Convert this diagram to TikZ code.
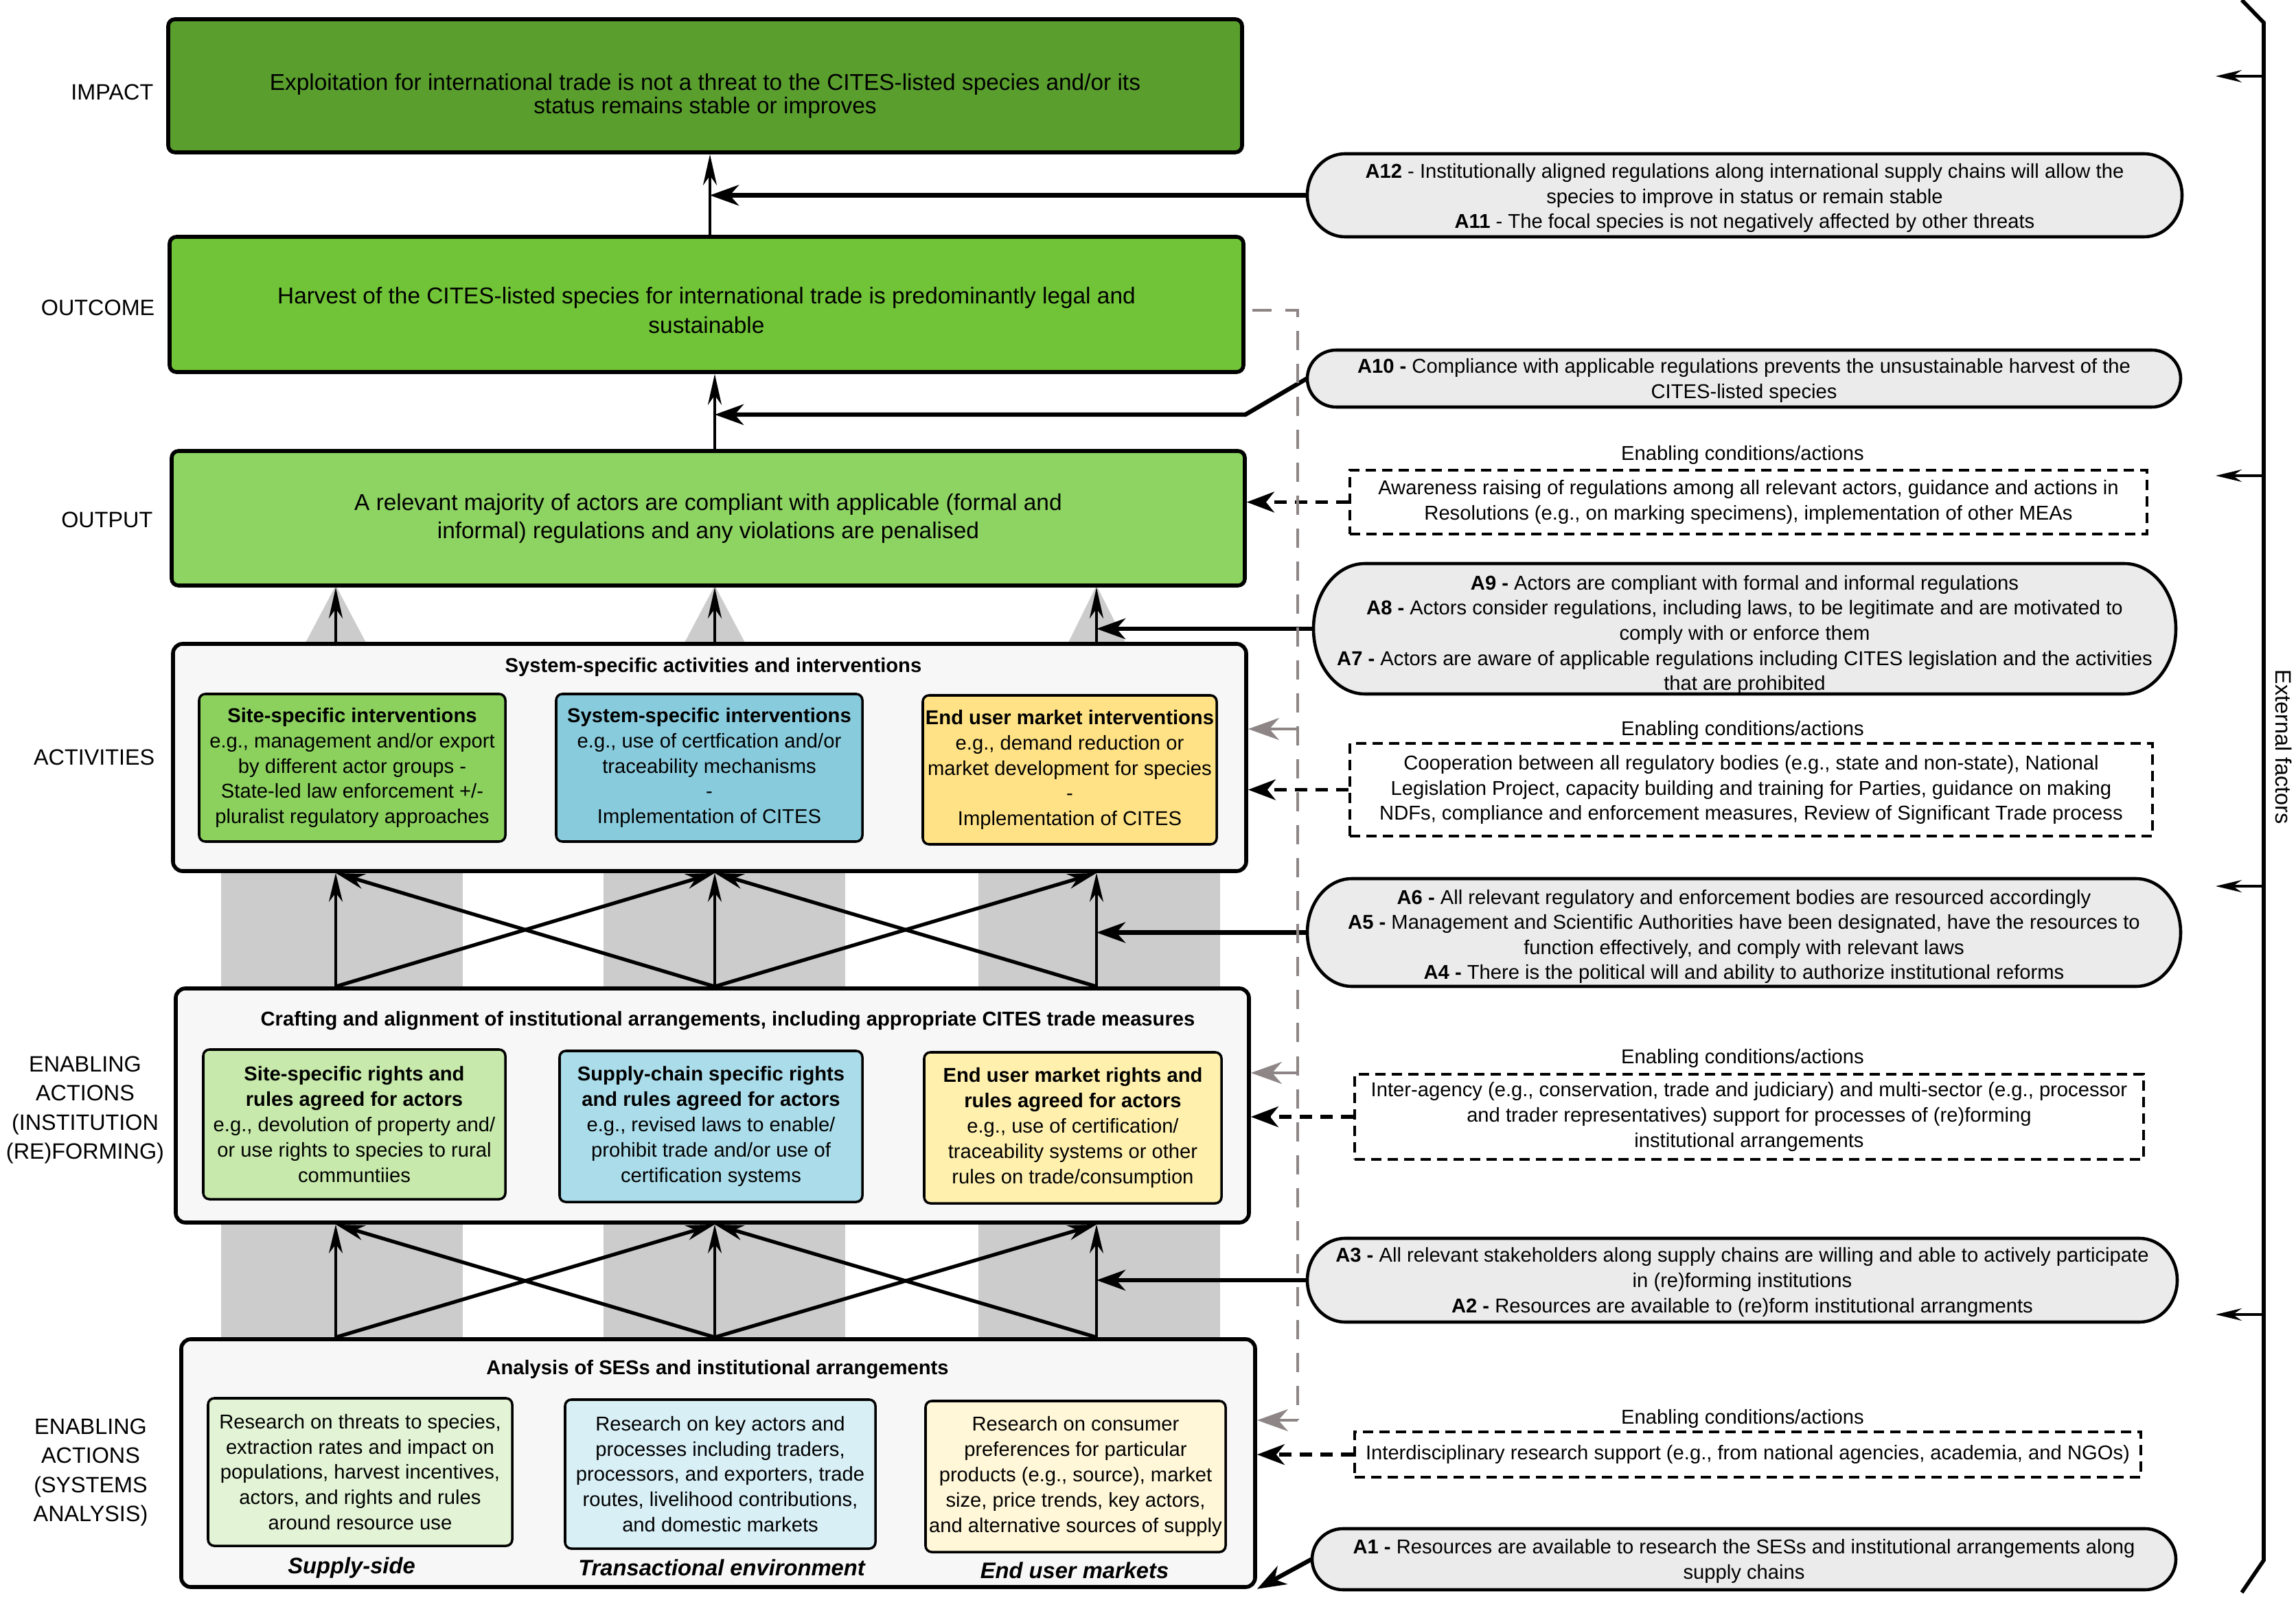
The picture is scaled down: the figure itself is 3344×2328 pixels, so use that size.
\documentclass[tikz,border=0pt]{standalone}
\usepackage{fontspec}
\setmainfont{Liberation Sans}
\usetikzlibrary{arrows.meta,calc}

\definecolor{gImpact}{HTML}{5A9F2E}
\definecolor{gOutcome}{HTML}{71C437}
\definecolor{gOutput}{HTML}{8ED462}
\definecolor{panelgray}{HTML}{F7F7F7}
\definecolor{cAg}{HTML}{8CD15E}
\definecolor{cAb}{HTML}{88CBDD}
\definecolor{cAy}{HTML}{FFE285}
\definecolor{cBg}{HTML}{C7E9AB}
\definecolor{cBb}{HTML}{ABDCEA}
\definecolor{cBy}{HTML}{FFF0AE}
\definecolor{cCg}{HTML}{E3F4D6}
\definecolor{cCb}{HTML}{D8EFF6}
\definecolor{cCy}{HTML}{FFF7D8}
\definecolor{ellfill}{HTML}{EBEBEB}
\definecolor{colgray}{HTML}{CCCCCC}
\definecolor{dashgray}{HTML}{8E8686}

\newcommand{\bx}[7]{%
 \pgfmathsetmacro{\bxW}{(#5-#3)*0.01}%
 \pgfmathsetmacro{\bxH}{(#6-#4)*0.01}%
 \pgfmathsetmacro{\bxX}{(#3+#5)/2}%
 \pgfmathsetmacro{\bxY}{(#4+#6)/2}%
 \node[#1, minimum width=\bxW cm, minimum height=\bxH cm] (#2) at (\bxX,\bxY) {#7};}

% #1 name, #2 x1, #3 y1, #4 x2, #5 y2, #6 rx, #7 text y-offset, #8 text
\newcommand{\stad}[8]{%
 \pgfmathsetmacro{\sYm}{(#3+#5)/2}%
 \pgfmathsetmacro{\sRy}{(#5-#3)/2}%
 \pgfmathsetmacro{\sXa}{#2+#6}%
 \pgfmathsetmacro{\sXb}{#4-#6}%
 \pgfmathsetmacro{\sCx}{0.5523*#6}%
 \pgfmathsetmacro{\sCy}{0.5523*\sRy}%
 \filldraw[stadshape] (\sXa,#3) -- (\sXb,#3) .. controls ({\sXb+\sCx},#3) and (#4,{\sYm-\sCy}) .. (#4,\sYm) .. controls (#4,{\sYm+\sCy}) and ({\sXb+\sCx},#5) .. (\sXb,#5) -- (\sXa,#5) .. controls ({\sXa-\sCx},#5) and (#2,{\sYm+\sCy}) .. (#2,\sYm) .. controls (#2,{\sYm-\sCy}) and ({\sXa-\sCx},#3) .. cycle;
 \pgfmathsetmacro{\sW}{(#4-#2)*0.01}%
 \pgfmathsetmacro{\sH}{(#5-#3)*0.01}%
 \pgfmathsetmacro{\sX}{(#2+#4)/2}%
 \node[inner sep=0pt, minimum width=\sW cm, minimum height=\sH cm] (#1) at (\sX,\sYm) {};
 \node[stadtext] (#1t) at (\sX,{\sYm+#7}) {#8};}

\tikzset{
 mainbox/.style={draw=black, line width=1.6pt, rounded corners=0.1cm, align=center, inner sep=0pt},
 maintext/.style={align=center, inner sep=0pt},
 panel/.style={draw=black, line width=1.6pt, fill=panelgray, rounded corners=0.14cm, inner sep=0pt},
 ibox/.style={draw=black, line width=1pt, rounded corners=0.09cm, align=center, inner sep=0pt, font=\fontsize{8.3}{10.5}\selectfont},
 hdr/.style={font=\bfseries\fontsize{8.3}{10}\selectfont, inner sep=0pt},
 lab/.style={font=\fontsize{9.2}{12}\selectfont, align=center, inner sep=0pt},
 blab/.style={font=\bfseries\itshape\fontsize{9.3}{11}\selectfont, inner sep=0pt},
 stadshape/.style={fill=ellfill, draw=black, line width=1.3pt},
 stadtext/.style={align=center, inner sep=0pt, font=\fontsize{8.3}{10.4}\selectfont},
 dbox/.style={draw=black, line width=1.3pt, dash pattern=on 0.15cm off 0.09cm, align=center, inner sep=0pt, font=\fontsize{8.3}{10.5}\selectfont},
 eclab/.style={font=\fontsize{8.3}{10}\selectfont, inner sep=0pt},
 uparr/.style={line width=1.2pt, -{Stealth[length=0.45cm,width=0.2cm,inset=0.14cm]}},
 thinup/.style={line width=1pt, -{Stealth[length=0.42cm,width=0.2cm,inset=0.13cm]}},
 diagarr/.style={line width=1.5pt, -{Stealth[length=0.42cm,width=0.22cm,inset=0.13cm]}},
 aarr/.style={line width=1.8pt, line join=miter, -{Stealth[length=0.42cm,width=0.3cm,inset=0.13cm]}},
 darr/.style={line width=1.6pt, dash pattern=on 0.18cm off 0.12cm, -{Stealth[length=0.4cm,width=0.3cm,inset=0.12cm]}},
 gline/.style={draw=dashgray, line width=0.9pt, dash pattern=on 0.28cm off 0.2cm},
 garr/.style={draw=dashgray, line width=1.3pt, -{Stealth[length=0.45cm,width=0.32cm,inset=0.14cm]}},
 bracketline/.style={line width=1.6pt, line join=miter},
 extarr/.style={line width=1pt, -{Stealth[length=0.38cm,width=0.18cm,inset=0.13cm]}},
}

\begin{document}
\begin{tikzpicture}[x=0.01cm, y=-0.01cm]
\useasboundingbox (0,0) rectangle (3344,2328);
\fill[white] (0,0) rectangle (3344,2328);

% column x positions
\coordinate (cx1) at (489,0);
\coordinate (cx2) at (1041,0);
\coordinate (cx3) at (1597,0);
\coordinate (cxi) at (1034,0);

% gray columns
\fill[colgray] (322,1269) rectangle (674,1440);
\fill[colgray] (879,1269) rectangle (1231,1440);
\fill[colgray] (1425,1269) rectangle (1777,1440);
\fill[colgray] (322,1781) rectangle (674,1951);
\fill[colgray] (879,1781) rectangle (1231,1951);
\fill[colgray] (1425,1781) rectangle (1777,1951);
% gray triangles
\fill[colgray] (444,938) -- (534,938) -- (489,853) -- cycle;
\fill[colgray] (996,938) -- (1086,938) -- (1041,853) -- cycle;
\fill[colgray] (1555,938) -- (1640,938) -- (1597,853) -- cycle;

% left labels
\node[lab, anchor=east] (lImpact) at (224,134) {IMPACT};
\node[lab, anchor=east] (lOutcome) at (226,448) {OUTCOME};
\node[lab, anchor=east] (lOutput) at (223,757) {OUTPUT};
\node[lab, anchor=east] (lAct) at (226,1103) {ACTIVITIES};
\node[lab] (lInst) at (124,1617) {ENABLING\\ACTIONS\\(INSTITUTION\\(RE)FORMING)};
\node[lab] (lSys) at (132,2145) {ENABLING\\ACTIONS\\(SYSTEMS\\ANALYSIS)};

% main boxes
\bx{mainbox, fill=gImpact}{impact}{245}{28}{1809}{222}{}
\node[maintext, font=\fontsize{9.5}{9.8}\selectfont] (impactT) at (1027,140) {Exploitation for international trade is not a threat to the CITES-listed species and/or its\\status remains stable or improves};
\bx{mainbox, fill=gOutcome}{outcome}{247}{345}{1811}{542}{}
\node[maintext, font=\fontsize{9.5}{12.2}\selectfont] (outcomeT) at (1029,452) {Harvest of the CITES-listed species for international trade is predominantly legal and\\sustainable};
\bx{mainbox, fill=gOutput, font=\fontsize{9.5}{11.7}\selectfont}{output}{250}{657}{1813}{853}{A relevant majority of actors are compliant with applicable (formal and\\informal) regulations and any violations are penalised}

% activities panel
\bx{panel}{act}{252}{938}{1815}{1269}{}
\node[hdr] (hAct) at (1039,972) {System-specific activities and interventions};
\bx{ibox, fill=cAg}{actG}{290}{1011}{736}{1226}{\textbf{Site-specific interventions}\\e.g., management and/or export\\by different actor groups -\\State-led law enforcement +/-\\pluralist regulatory approaches}
\bx{ibox, fill=cAb}{actB}{810}{1011}{1256}{1226}{\textbf{System-specific interventions}\\e.g., use of certfication and/or\\traceability mechanisms\\-\\Implementation of CITES}
\bx{ibox, fill=cAy}{actY}{1344}{1013}{1772}{1230}{\textbf{End user market interventions}\\e.g., demand reduction or\\market development for species\\-\\Implementation of CITES}

% institution panel
\bx{panel}{inst}{256}{1440}{1819}{1781}{}
\node[hdr] (hInst) at (1060,1487) {Crafting and alignment of institutional arrangements, including appropriate CITES trade measures};
\bx{ibox, fill=cBg}{instG}{296}{1529}{736}{1747}{\textbf{Site-specific rights and}\\\textbf{rules agreed for actors}\\e.g., devolution of property and/\\or use rights to species to rural\\communtiies}
\bx{ibox, fill=cBb}{instB}{815}{1531}{1256}{1751}{\textbf{Supply-chain specific rights}\\\textbf{and rules agreed for actors}\\e.g., revised laws to enable/\\prohibit trade and/or use of\\certification systems}
\bx{ibox, fill=cBy}{instY}{1346}{1533}{1779}{1753}{\textbf{End user market rights and}\\\textbf{rules agreed for actors}\\e.g., use of certification/\\traceability systems or other\\rules on trade/consumption}

% systems panel
\bx{panel}{sys}{264}{1951}{1828}{2312}{}
\node[hdr] (hSys) at (1045,1995) {Analysis of SESs and institutional arrangements};
\bx{ibox, fill=cCg}{sysG}{303}{2037}{746}{2252}{Research on threats to species,\\extraction rates and impact on\\populations, harvest incentives,\\actors, and rights and rules\\around resource use}
\bx{ibox, fill=cCb}{sysB}{823}{2039}{1275}{2256}{Research on key actors and\\processes including traders,\\processors, and exporters, trade\\routes, livelihood contributions,\\and domestic markets}
\bx{ibox, fill=cCy}{sysY}{1348}{2041}{1785}{2261}{Research on consumer\\preferences for particular\\products (e.g., source), market\\size, price trends, key actors,\\and alternative sources of supply}
\node[blab] (lSupply) at (512,2284) {Supply-side};
\node[blab] (lTrans) at (1051,2284) {Transactional environment};
\node[blab] (lEnd) at (1565,2288) {End user markets};

% assumption shapes
\stad{A12}{1904}{224}{3178}{345}{55}{4}{\textbf{A12} - Institutionally aligned regulations along international supply chains will allow the\\species to improve in status or remain stable\\\textbf{A11} - The focal species is not negatively affected by other threats}
\stad{A10}{1904}{510}{3176}{593}{42}{3}{\textbf{A10 -} Compliance with applicable regulations prevents the unsustainable harvest of the\\CITES-listed species}
\stad{A9}{1913}{821}{3169}{1011}{75}{9}{\textbf{A9 -} Actors are compliant with formal and informal regulations\\\textbf{A8 -} Actors consider regulations, including laws, to be legitimate and are motivated to\\comply with or enforce them\\\textbf{A7 -} Actors are aware of applicable regulations including CITES legislation and the activities\\that are prohibited}
\stad{A6}{1904}{1280}{3176}{1437}{65}{6}{\textbf{A6 -} All relevant regulatory and enforcement bodies are resourced accordingly\\\textbf{A5 -} Management and Scientific Authorities have been designated, have the resources to\\function effectively, and comply with relevant laws\\\textbf{A4 -} There is the political will and ability to authorize institutional reforms}
\stad{A3}{1904}{1804}{3171}{1926}{55}{3}{\textbf{A3 -} All relevant stakeholders along supply chains are willing and able to actively participate\\in (re)forming institutions\\\textbf{A2 -} Resources are available to (re)form institutional arrangments}
\stad{A1}{1911}{2227}{3169}{2316}{45}{3}{\textbf{A1 -} Resources are available to research the SESs and institutional arrangements along\\supply chains}

% enabling conditions
\node[eclab] (ec1) at (2538,663) {Enabling conditions/actions};
\bx{dbox}{db1}{1966}{685}{3127}{778}{Awareness raising of regulations among all relevant actors, guidance and actions in\\Resolutions (e.g., on marking specimens), implementation of other MEAs}
\node[eclab] (ec2) at (2538,1064) {Enabling conditions/actions};
\bx{dbox}{db2}{1966}{1083}{3135}{1218}{Cooperation between all regulatory bodies (e.g., state and non-state), National\\Legislation Project, capacity building and training for Parties, guidance on making\\NDFs, compliance and enforcement measures, Review of Significant Trade process}
\node[eclab] (ec3) at (2538,1542) {Enabling conditions/actions};
\bx{dbox}{db3}{1973}{1565}{3122}{1689}{Inter-agency (e.g., conservation, trade and judiciary) and multi-sector (e.g., processor\\and trader representatives) support for processes of (re)forming\\institutional arrangements}
\node[eclab] (ec4) at (2538,2067) {Enabling conditions/actions};
\bx{dbox}{db4}{1973}{2086}{3118}{2152}{Interdisciplinary research support (e.g., from national agencies, academia, and NGOs)}

% vertical main arrows
\draw[uparr] (outcome.north -| cxi) -- (impact.south -| cxi);
\draw[uparr] (output.north -| cx2) -- (outcome.south -| cx2);
\draw[uparr] (act.north -| cx1) -- (output.south -| cx1);
\draw[uparr] (act.north -| cx2) -- (output.south -| cx2);
\draw[uparr] (act.north -| cx3) -- (output.south -| cx3);

% institution -> activities
\draw[thinup] (inst.north -| cx1) -- (act.south -| cx1);
\draw[thinup] (inst.north -| cx2) -- (act.south -| cx2);
\draw[thinup] (inst.north -| cx3) -- (act.south -| cx3);
\draw[diagarr] (inst.north -| cx1) -- (act.south -| cx2);
\draw[diagarr] (inst.north -| cx2) -- (act.south -| cx1);
\draw[diagarr] (inst.north -| cx2) -- (act.south -| cx3);
\draw[diagarr] (inst.north -| cx3) -- (act.south -| cx2);

% systems -> institution
\draw[thinup] (sys.north -| cx1) -- (inst.south -| cx1);
\draw[thinup] (sys.north -| cx2) -- (inst.south -| cx2);
\draw[thinup] (sys.north -| cx3) -- (inst.south -| cx3);
\draw[diagarr] (sys.north -| cx1) -- (inst.south -| cx2);
\draw[diagarr] (sys.north -| cx2) -- (inst.south -| cx1);
\draw[diagarr] (sys.north -| cx2) -- (inst.south -| cx3);
\draw[diagarr] (sys.north -| cx3) -- (inst.south -| cx2);

% assumption connectors
\draw[aarr] (A12.west) -- (A12.west -| cxi);
\draw[aarr] (A10.west) -- (outcome.east |- 0,604) -- (cx2 |- 0,604);
\draw[aarr] (A9.west) -- (A9.west -| cx3);
\draw[aarr] (A6.west) -- (A6.west -| cx3);
\draw[aarr] (A3.west) -- (A3.west -| cx3);
\draw[aarr] (A1.west) -- (sys.south east);

% dashed enabling arrows
\draw[darr] (db1.west) -- (db1.west -| output.east);
\draw[darr] (db2.west) -- (db2.west -| act.east);
\draw[darr] (db3.west) -- (db3.west -| inst.east);
\draw[darr] (db4.west) -- (db4.west -| sys.east);

% gray feedback line
\coordinate (gtop) at (1890,452);
\coordinate (gbot) at (1890,2069);
\draw[gline] ([xshift=0.1cm]outcome.east |- gtop) -- (gtop) -- (gbot);
\draw[garr] (gtop |- 0,1062) -- (act.east |- 0,1062);
\draw[garr] (gtop |- 0,1563) -- (inst.east |- 0,1563);
\draw[garr] (gbot) -- (gbot -| sys.east);

% external factors bracket
\draw[bracketline] (3265,0) -- (3297,33) -- (3297,2273) -- (3265,2320);
\coordinate (ef1) at (3297,111);
\coordinate (ef2) at (3297,693);
\coordinate (ef3) at (3297,1291);
\coordinate (ef4) at (3297,1915);
\draw[extarr] (ef1) -- ++(-70,0);
\draw[extarr] (ef2) -- ++(-70,0);
\draw[extarr] (ef3) -- ++(-70,0);
\draw[extarr] (ef4) -- ++(-70,0);
\node[lab, rotate=-90] (ext) at (3326,1088) {External factors};
\end{tikzpicture}
\end{document}
